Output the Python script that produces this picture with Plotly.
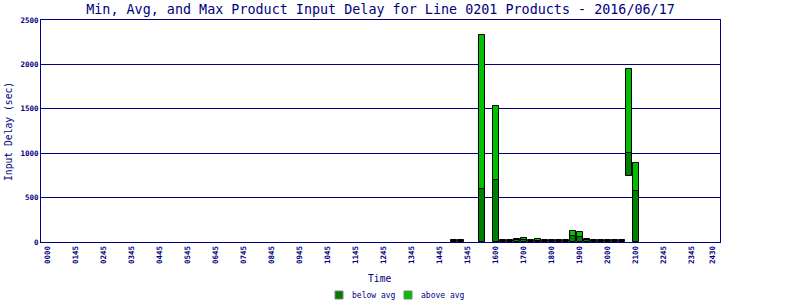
import plotly.graph_objects as go

# ---- data ----
tick_slots = [0, 4, 8, 12, 16, 20, 24, 28, 32, 36, 40, 44, 48, 52, 56, 60,
              64, 68, 72, 76, 80, 84, 88, 92, 95]
tick_labels = ["0000", "0145", "0245", "0345", "0445", "0545", "0645", "0745",
               "0845", "0945", "1045", "1145", "1245", "1345", "1445", "1545",
               "1600", "1700", "1800", "1900", "2000", "2100", "2245", "2345", "2430"]

bar_slots = [58, 59, 62, 64, 65, 66, 67, 68, 69, 70, 71, 72, 73, 74, 75, 76,
             77, 78, 79, 80, 81, 82, 83, 84]
min_delay = [0, 0, 0, 0, 0, 0, 0, 0, 0, 0, 0, 0, 0, 0, 0, 0,
             0, 0, 0, 0, 0, 0, 740, 0]
avg_delay = [10, 10, 593, 695, 10, 10, 18, 22, 10, 12, 10, 10, 10, 10, 62, 60,
             22, 10, 10, 10, 10, 10, 1000, 571]
max_delay = [22, 22, 2331, 1528, 22, 22, 36, 46, 22, 34, 22, 22, 22, 22, 124, 113,
             34, 22, 22, 22, 22, 22, 1945, 886]
legend_names = ["below avg", "above avg"]

NAVY = "#000080"
DARK = "#008000"
LIGHT = "#00c000"
FONT = "DejaVu Sans Mono"

below_len = [a - m for a, m in zip(avg_delay, min_delay)]
above_len = [x - a for x, a in zip(max_delay, avg_delay)]

fig = go.Figure()
fig.add_trace(go.Bar(x=bar_slots, y=below_len, base=min_delay, width=0.8,
                     marker=dict(color=DARK, line=dict(color="black", width=1)),
                     showlegend=False, name=legend_names[0]))
fig.add_trace(go.Bar(x=bar_slots, y=above_len, base=avg_delay, width=0.8,
                     marker=dict(color=LIGHT, line=dict(color="black", width=1)),
                     showlegend=False, name=legend_names[1]))

# plot area in pixels: x 41..720, y 20..242
def px_x(p):
    return (p - 41) / 679

def px_y(p):
    return (242 - p) / 222

shapes = []
annotations = []
for name, color, bx in zip(legend_names, [DARK, LIGHT], [335, 404]):
    shapes.append(dict(type="rect", xref="paper", yref="paper",
                       x0=px_x(bx), x1=px_x(bx + 8), y0=px_y(299), y1=px_y(291),
                       fillcolor=color, line=dict(color="#808080", width=1)))
    annotations.append(dict(text=name, xref="paper", yref="paper",
                            x=px_x(bx + 15), y=px_y(295), xanchor="left", yanchor="middle",
                            showarrow=False,
                            font=dict(family=FONT, size=8, color=NAVY)))

annotations += [
    dict(text="Input Delay (sec)", textangle=-90, xref="paper", yref="paper",
         x=px_x(8), y=px_y(132), xanchor="center", yanchor="middle",
         showarrow=False, font=dict(family=FONT, size=9.7, color=NAVY)),
    dict(text="Time", xref="paper", yref="paper",
         x=px_x(379), y=px_y(278), xanchor="center", yanchor="middle",
         showarrow=False, font=dict(family=FONT, size=9.7, color=NAVY)),
]

fig.update_layout(
    width=800, height=300,
    margin=dict(l=41, r=80, t=20, b=58),
    paper_bgcolor="white", plot_bgcolor="white",
    barmode="overlay",
    bargap=0,
    showlegend=False,
    font=dict(family=FONT, color=NAVY, size=8),
    title=dict(text="Min, Avg, and Max Product Input Delay for Line 0201 Products - 2016/06/17",
               x=0.5, xref="paper", xanchor="center",
               y=1 - 9 / 300, yref="container", yanchor="middle",
               font=dict(family=FONT, size=13.4, color=NAVY)),
    xaxis=dict(range=[-1, 96], tickmode="array", tickvals=tick_slots, ticktext=tick_labels,
               tickangle=-90, showgrid=False, zeroline=False,
               showline=True, mirror=True, linecolor=NAVY, linewidth=1,
               ticks="", tickfont=dict(family=FONT, size=7.5, color=NAVY, weight="bold")),
    yaxis=dict(range=[0, 2500], tickmode="array", tickvals=[0, 500, 1000, 1500, 2000, 2500],
               showgrid=True, gridcolor=NAVY, gridwidth=1, zeroline=False,
               showline=True, mirror=True, linecolor=NAVY, linewidth=1,
               ticks="", tickfont=dict(family=FONT, size=7.5, color=NAVY, weight="bold")),
    shapes=shapes,
    annotations=annotations,
)

fig.write_html("out.html")
